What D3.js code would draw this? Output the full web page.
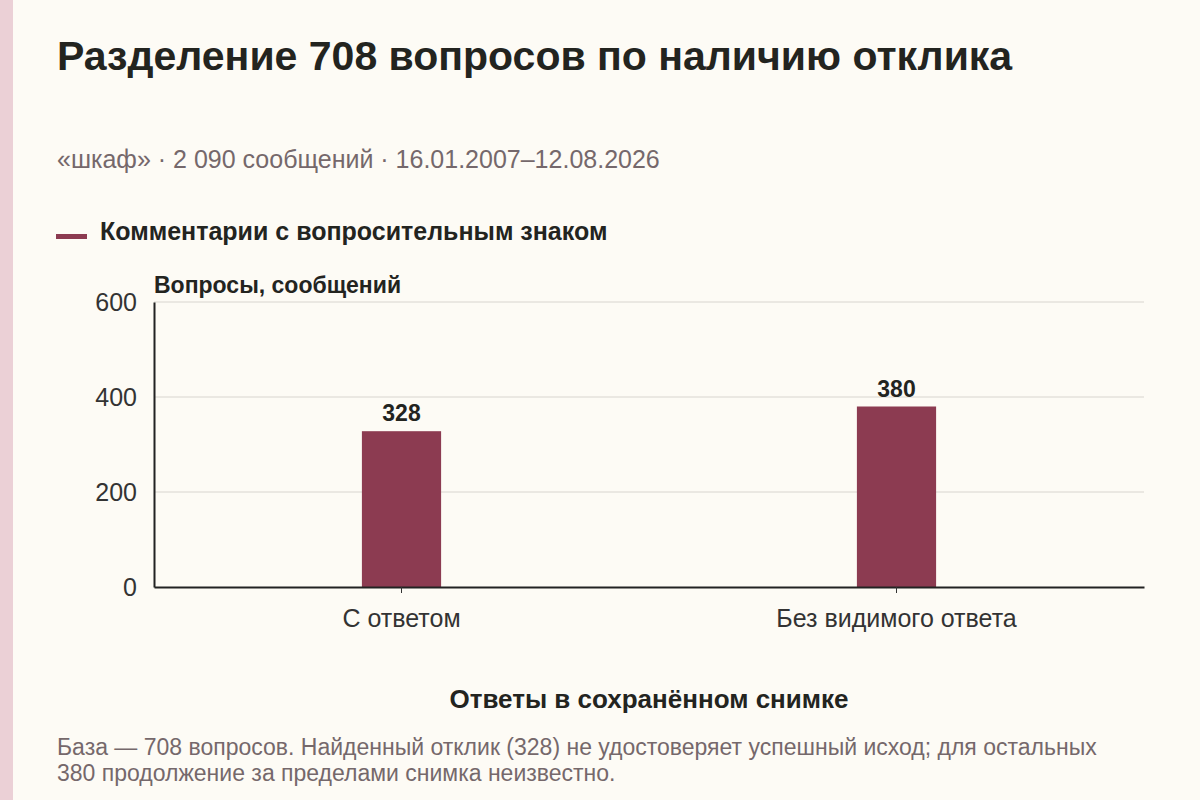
<!doctype html>
<html lang="ru">
<head>
<meta charset="utf-8">
<title>Разделение 708 вопросов</title>
<script src="https://d3js.org/d3.v7.min.js"></script>
<style>
  body { margin: 0; background: #fdfbf5; }
  svg text { font-family: "Liberation Sans", Arial, sans-serif; }
</style>
</head>
<body>
<div id="chart"></div>
<script>
// data
var categories = ["С ответом", "Без видимого ответа"];
var questions = [328, 380];
var yTicks = [0, 200, 400, 600];
var seriesName = "Комментарии с вопросительным знаком";

var width = 1200, height = 800;
var margin = {left: 154, right: 56, top: 302, bottom: 213};
var barColor = "#8c3b51";
var mutedColor = "#75686b";

var svg = d3.select("#chart").append("svg")
    .attr("width", width)
    .attr("height", height);

svg.append("rect").attr("width", width).attr("height", height).attr("fill", "#fdfbf5");
// pink strip on the left edge
svg.append("rect").attr("x", 0).attr("y", 0).attr("width", 13).attr("height", height).attr("fill", "#ebd0d6");

svg.append("text")
    .attr("x", 57).attr("y", 70)
    .attr("font-size", 41).attr("font-weight", "bold").attr("fill", "#23241f")
    .text("Разделение 708 вопросов по наличию отклика");

svg.append("text")
    .attr("x", 57).attr("y", 168)
    .attr("font-size", 25).attr("fill", mutedColor)
    .text("«шкаф» · 2 090 сообщений · 16.01.2007–12.08.2026");

// legend
svg.append("rect").attr("x", 56).attr("y", 234).attr("width", 31).attr("height", 5).attr("fill", barColor);
svg.append("text")
    .attr("x", 100).attr("y", 240)
    .attr("font-size", 25).attr("font-weight", "bold").attr("fill", "#23241f")
    .text(seriesName);

var x = d3.scaleBand()
    .domain(categories)
    .range([margin.left, width - margin.right])
    .paddingInner(0.84)
    .paddingOuter(0.42);

var y = d3.scaleLinear()
    .domain([0, 600])
    .range([height - margin.bottom, margin.top]);

// gridlines
svg.append("g")
  .selectAll("line")
  .data(yTicks.filter(function(d) { return d > 0; }))
  .join("line")
    .attr("x1", margin.left).attr("x2", width - margin.right)
    .attr("y1", function(d) { return y(d); })
    .attr("y2", function(d) { return y(d); })
    .attr("stroke", "#d8d5cf").attr("stroke-width", 1);

// y axis
var yAxis = svg.append("g")
    .attr("transform", "translate(" + margin.left + ",0)")
    .call(d3.axisLeft(y).tickValues(yTicks).tickSize(0).tickPadding(17));
yAxis.select(".domain").attr("stroke", "#222").attr("stroke-width", 2);
yAxis.selectAll("text")
    .attr("font-size", 25).attr("fill", "#333").attr("dy", "0.35em")
    .style("font-family", "'Liberation Sans', Arial, sans-serif");

svg.append("text")
    .attr("x", margin.left).attr("y", 293)
    .attr("font-size", 23).attr("font-weight", "bold").attr("fill", "#23241f")
    .text("Вопросы, сообщений");

// bars
svg.append("g")
  .selectAll("rect")
  .data(questions)
  .join("rect")
    .attr("x", function(d, i) { return x(categories[i]); })
    .attr("y", function(d) { return y(d); })
    .attr("width", x.bandwidth())
    .attr("height", function(d) { return y(0) - y(d); })
    .attr("fill", barColor);

svg.append("g")
  .selectAll("text")
  .data(questions)
  .join("text")
    .attr("x", function(d, i) { return x(categories[i]) + x.bandwidth() / 2; })
    .attr("y", function(d) { return y(d) - 10; })
    .attr("text-anchor", "middle")
    .attr("font-size", 23).attr("font-weight", "bold").attr("fill", "#23241f")
    .text(function(d) { return d; });

// x axis
var xAxis = svg.append("g")
    .attr("transform", "translate(0," + y(0) + ")")
    .call(d3.axisBottom(x).tickSize(6).tickPadding(16).tickSizeOuter(0));
xAxis.select(".domain").attr("stroke", "#222").attr("stroke-width", 2);
xAxis.selectAll(".tick line").attr("stroke", "#333");
xAxis.selectAll("text")
    .attr("font-size", 25).attr("fill", "#333")
    .style("font-family", "'Liberation Sans', Arial, sans-serif");

svg.append("text")
    .attr("x", (margin.left + width - margin.right) / 2).attr("y", 708)
    .attr("text-anchor", "middle")
    .attr("font-size", 26).attr("font-weight", "bold").attr("fill", "#23241f")
    .text("Ответы в сохранённом снимке");

// footnote
var notes = [
  "База — 708 вопросов. Найденный отклик (328) не удостоверяет успешный исход; для остальных",
  "380 продолжение за пределами снимка неизвестно."
];
svg.append("g")
  .selectAll("text")
  .data(notes)
  .join("text")
    .attr("x", 57)
    .attr("y", function(d, i) { return 755 + i * 26; })
    .attr("font-size", 23).attr("fill", mutedColor)
    .text(function(d) { return d; });
</script>
</body>
</html>
